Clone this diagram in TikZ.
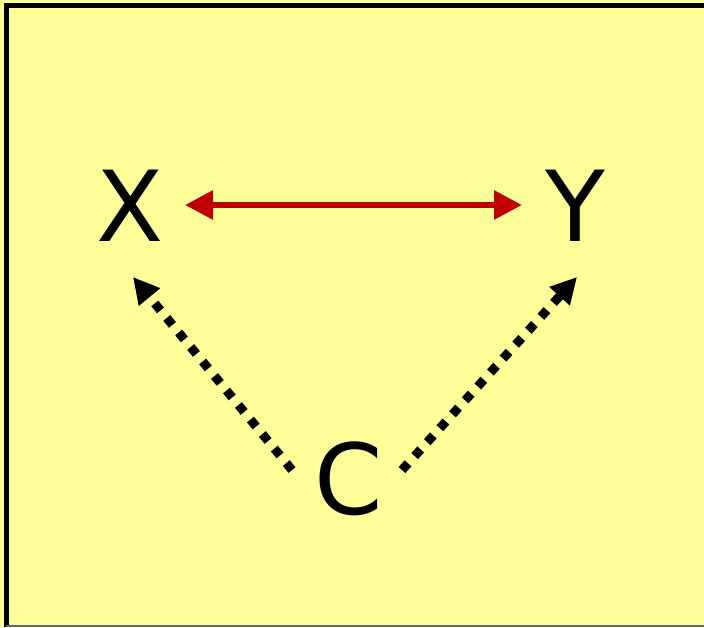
\documentclass[tikz,border=0pt]{standalone}
\usepackage{fontspec}
\setmainfont{DejaVu Sans}
\usetikzlibrary{arrows.meta}
\definecolor{bgyellow}{RGB}{255,255,153}
\definecolor{darkred}{RGB}{192,0,0}
\begin{document}
\begin{tikzpicture}[x=1pt,y=-1pt,
  lbl/.style={font=\fontsize{98}{98}\selectfont, inner sep=0pt, text=black},
  biarrow/.style={darkred, line width=6pt, {Triangle[length=28pt,width=28pt]}-{Triangle[length=28pt,width=28pt]}},
  dotarrow/.style={black, line width=9pt, dash pattern=on 9pt off 9.8pt, -{Triangle[length=26pt,width=26pt]}}]
\useasboundingbox (0,0) rectangle (704,627);
\fill[bgyellow] (0,0) rectangle (704,627);
\draw[black, line width=5pt] (6,627) -- (6,5) -- (704,5);
\draw[black!60, line width=2pt] (6,626) -- (704,626);
\node[lbl] (X) at (130,206) {X};
\node[lbl] (Y) at (575,206) {Y};
\node[lbl] (C) at (349,479) {C};
\coordinate (xs) at (185,205);
\coordinate (ye) at (522,205);
\draw[biarrow] (xs) -- (ye);
\coordinate (cl) at (292,470);
\coordinate (xt) at (133,277);
\coordinate (cr) at (402,470);
\coordinate (yt) at (577,277);
\draw[dotarrow] (cl) -- (xt);
\draw[dotarrow] (cr) -- (yt);
\end{tikzpicture}
\end{document}
